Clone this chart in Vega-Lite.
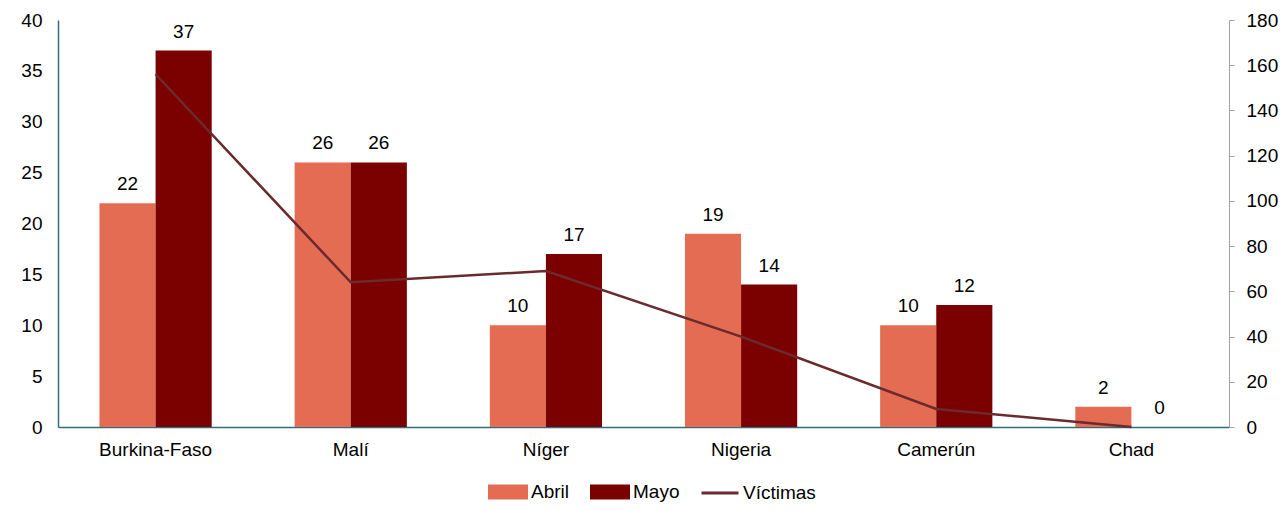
{
  "$schema": "https://vega.github.io/schema/vega-lite/v6.json",
  "width": 1171,
  "height": 407,
  "autosize": {"type": "none"},
  "padding": {"left": 58, "top": 20, "right": 58, "bottom": 84},
  "background": "white",
  "config": {
    "view": {"stroke": null},
    "font": "Liberation Sans",
    "axis": {"labelFont": "Liberation Sans", "labelColor": "#000000", "grid": false, "title": null},
    "legend": {"labelFont": "Liberation Sans"}
  },
  "datasets": {
    "barras": [
      {"pais": "Burkina-Faso", "serie": "Abril", "valor": 22},
      {"pais": "Burkina-Faso", "serie": "Mayo", "valor": 37},
      {"pais": "Malí", "serie": "Abril", "valor": 26},
      {"pais": "Malí", "serie": "Mayo", "valor": 26},
      {"pais": "Níger", "serie": "Abril", "valor": 10},
      {"pais": "Níger", "serie": "Mayo", "valor": 17},
      {"pais": "Nigeria", "serie": "Abril", "valor": 19},
      {"pais": "Nigeria", "serie": "Mayo", "valor": 14},
      {"pais": "Camerún", "serie": "Abril", "valor": 10},
      {"pais": "Camerún", "serie": "Mayo", "valor": 12},
      {"pais": "Chad", "serie": "Abril", "valor": 2},
      {"pais": "Chad", "serie": "Mayo", "valor": 0}
    ],
    "victimas": [
      {"pais": "Burkina-Faso", "victimas": 156},
      {"pais": "Malí", "victimas": 64},
      {"pais": "Níger", "victimas": 69},
      {"pais": "Nigeria", "victimas": 40},
      {"pais": "Camerún", "victimas": 8},
      {"pais": "Chad", "victimas": 0}
    ]
  },
  "encoding": {
    "x": {
      "field": "pais",
      "type": "nominal",
      "sort": ["Burkina-Faso", "Malí", "Níger", "Nigeria", "Camerún", "Chad"],
      "scale": {"paddingInner": 0.425, "paddingOuter": 0.2125},
      "axis": {
        "labelAngle": 0,
        "ticks": false,
        "domainColor": "#2F6E7A",
        "domainWidth": 1.5,
        "labelFontSize": 19,
        "labelPadding": 13
      }
    }
  },
  "layer": [
    {
      "data": {"name": "barras"},
      "layer": [
        {
          "mark": {"type": "bar"},
          "encoding": {
            "xOffset": {"field": "serie", "type": "nominal", "scale": {"paddingInner": 0}},
            "y": {
              "field": "valor",
              "type": "quantitative",
              "scale": {"domain": [0, 40]},
              "axis": {
                "orient": "left",
                "values": [0, 5, 10, 15, 20, 25, 30, 35, 40],
                "ticks": false,
                "domainColor": "#2F6E7A",
                "domainWidth": 1.5,
                "labelFontSize": 19,
                "labelPadding": 16
              }
            },
            "color": {
              "field": "serie",
              "type": "nominal",
              "scale": {"domain": ["Abril", "Mayo", "Víctimas"], "range": ["#E46C53", "#7B0000", "#6B2A2E"]},
              "legend": {
                "title": null,
                "orient": "none",
                "legendX": 430,
                "legendY": 452,
                "direction": "horizontal",
                "padding": 0,
                "labelFontSize": 19,
                "labelColor": "#000000",
                "labelOffset": 3,
                "columnPadding": 15,
                "symbolSize": 1369,
                "encode": {
                  "symbols": {
                    "update": {
                      "shape": {"signal": "datum.label === 'Víctimas' ? 'stroke' : 'M-1,-0.32H1V0.32H-1Z'"},
                      "fill": {"signal": "datum.label === 'Abril' ? '#E46C53' : (datum.label === 'Mayo' ? '#7B0000' : 'transparent')"},
                      "stroke": {"signal": "datum.label === 'Víctimas' ? '#6B2A2E' : 'transparent'"},
                      "strokeWidth": {"value": 3},
                      "opacity": {"value": 1},
                      "fillOpacity": {"value": 1}
                    }
                  }
                }
              }
            }
          }
        },
        {
          "mark": {"type": "text", "baseline": "alphabetic", "dy": -13, "fontSize": 19, "color": "#000000"},
          "encoding": {
            "xOffset": {"field": "serie", "type": "nominal", "scale": {"paddingInner": 0}},
            "y": {"field": "valor", "type": "quantitative"},
            "text": {"field": "valor", "type": "quantitative"}
          }
        }
      ]
    },
    {
      "data": {"name": "victimas"},
      "mark": {"type": "line", "strokeWidth": 2.5},
      "encoding": {
        "y": {
          "field": "victimas",
          "type": "quantitative",
          "scale": {"domain": [0, 180]},
          "axis": {
            "orient": "right",
            "values": [0, 20, 40, 60, 80, 100, 120, 140, 160, 180],
            "tickSize": 5,
            "tickColor": "#A0A0A0",
            "domainColor": "#A0A0A0",
            "labelFontSize": 19,
            "labelPadding": 12
          }
        },
        "color": {"datum": "Víctimas"}
      }
    }
  ],
  "resolve": {"scale": {"y": "independent"}}
}
